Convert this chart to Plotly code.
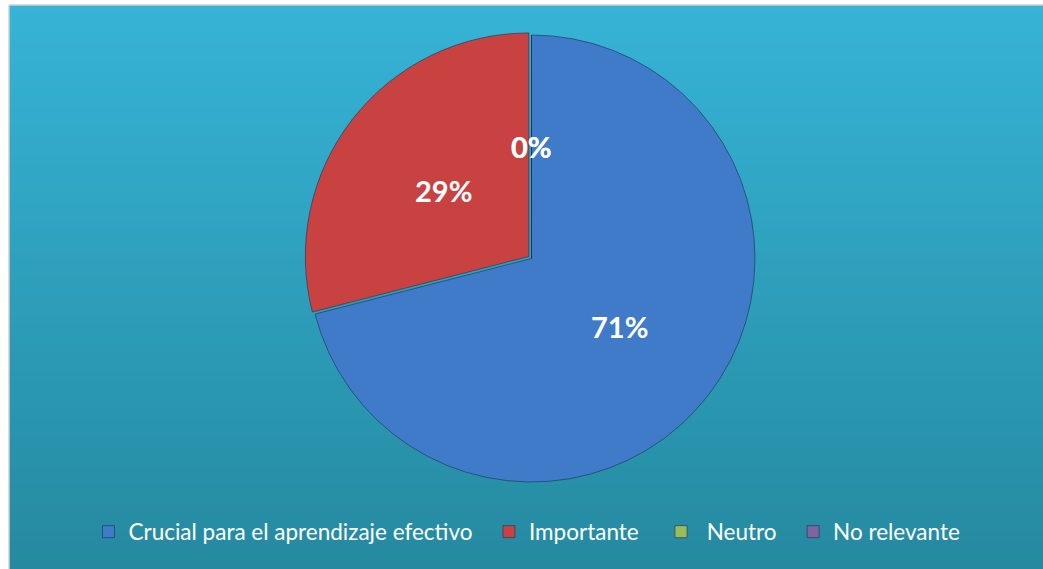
import math
import plotly.graph_objects as go

# data
categorias = ["Crucial para el aprendizaje efectivo", "Importante", "Neutro", "No relevante"]
porcentajes = [71, 29, 0, 0]
colores = ["#3F7BC9", "#C94242", "#9BBB59", "#8064A2"]

W, H = 1043, 569
cx, cy, r = 531.5, 258.5, 223.5
pull = [0, 0.015, 0, 0]

fig = go.Figure()

# background gradient (Excel style), drawn as thin bands
top = (54, 179, 214)
bot = (37, 138, 160)
n = 60
x0 = 9 / W
y_top = 1 - 5 / H
for i in range(n):
    t = i / (n - 1)
    c = tuple(round(top[k] + (bot[k] - top[k]) * t) for k in range(3))
    fig.add_shape(type="rect", xref="paper", yref="paper", layer="below",
                  x0=x0, x1=1, y0=y_top - (i + 1) * y_top / n - 0.002,
                  y1=y_top - i * y_top / n,
                  line_width=0, fillcolor="rgb(%d,%d,%d)" % c)
fig.add_shape(type="line", xref="paper", yref="paper", x0=x0, x1=x0, y0=0, y1=y_top,
              line=dict(color="#D0D0D0", width=1.5), layer="below")
fig.add_shape(type="line", xref="paper", yref="paper", x0=x0, x1=1, y0=y_top, y1=y_top,
              line=dict(color="#D0D0D0", width=1.5), layer="below")

# legend spacing like the original (icon close to text, wider gaps between items)
nb = "\u00a0"
legend_labels = [categorias[0] + nb * 2, categorias[1] + nb * 3,
                 nb + categorias[2] + nb * 2, categorias[3]]

half = r * (1 + max(pull))
fig.add_trace(go.Pie(
    labels=legend_labels,
    values=porcentajes,
    sort=False,
    direction="clockwise",
    rotation=0,
    pull=pull,
    textinfo="none",
    hoverinfo="label+percent",
    marker=dict(colors=colores, line=dict(color="rgba(30,50,80,0.6)", width=1)),
    domain=dict(x=[(cx - half) / W, (cx + half) / W],
                y=[1 - (cy + half) / H, 1 - (cy - half) / H]),
))

# percentage labels on the bisector of each slice, at half radius
total = sum(porcentajes)
acc = 0
for v in porcentajes:
    mid = (acc + v / 2) / total * 2 * math.pi
    acc += v
    px = cx + 0.5 * r * math.sin(mid)
    py = cy - 0.5 * r * math.cos(mid)
    fig.add_annotation(x=px / W, y=1 - py / H, xref="paper", yref="paper",
                       xanchor="center", yanchor="middle",
                       text="<b>%d%%</b>" % round(v / total * 100), showarrow=False,
                       font=dict(family="Lato", size=29, color="white"))

fig.update_layout(
    width=W, height=H,
    margin=dict(l=0, r=0, t=0, b=0),
    paper_bgcolor="white",
    showlegend=True,
    legend=dict(orientation="h", x=527 / W, xanchor="center", y=1 - 532 / H, yanchor="middle",
                font=dict(family="Lato", size=22.5, color="white"),
                bgcolor="rgba(0,0,0,0)", itemwidth=30, traceorder="normal"),
)

fig.write_html("out.html", config={"displayModeBar": False},
               post_script="document.body.style.margin='0';")
